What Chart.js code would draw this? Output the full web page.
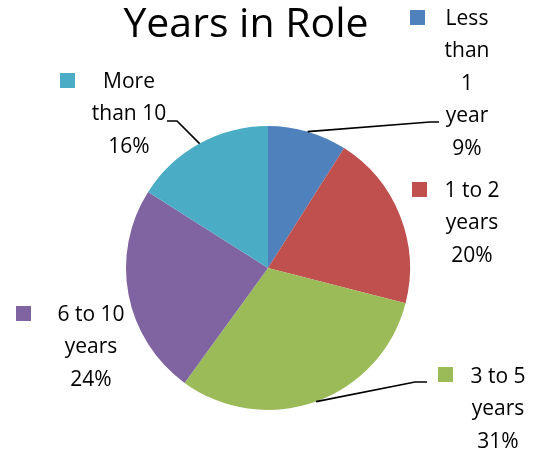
<!DOCTYPE html>
<html>
<head>
<meta charset="utf-8">
<script src="https://cdn.jsdelivr.net/npm/chart.js@4"></script>
<style>
  html, body { margin: 0; padding: 0; background: #fff; }
  #wrap { width: 536px; height: 455px; position: relative; }
</style>
</head>
<body>
<div id="wrap"><canvas id="c" width="536" height="455"></canvas></div>
<script>
// ---- data ----
const chartTitle = 'Years in Role';
const categories = ['Less than 1 year', '1 to 2 years', '3 to 5 years', '6 to 10 years', 'More than 10'];
const values = [9, 20, 31, 24, 16];
const colors = ['#4F81BD', '#C0504D', '#9BBB59', '#8064A2', '#4BACC6'];

// ---- layout for the data labels (text wrapping, placement) ----
const labelLayout = [
  { lines: ['Less', 'than', '1', 'year'], cx: 467, y0: 19, sq: [410, 10], leader: [[430, 122], [439, 122]] },
  { lines: ['1 to 2', 'years'], cx: 472, y0: 191, sq: [412, 182], leader: null },
  { lines: ['3 to 5', 'years'], cx: 498, y0: 377, sq: [438, 367], leader: [[415, 382], [427, 382]] },
  { lines: ['6 to 10', 'years'], cx: 91, y0: 315, sq: [16, 306], leader: null },
  { lines: ['More', 'than 10'], cx: 129, y0: 82, sq: [60, 73], leader: [[177, 121], [167, 121]] }
];
const lineGap = 32.5;
const fontFamily = '"Open Sans", sans-serif';

const labelPlugin = {
  id: 'pieLabels',
  afterDraw(chart) {
    const ctx = chart.ctx;
    const meta = chart.getDatasetMeta(0);
    const total = values.reduce((a, b) => a + b, 0);
    ctx.save();
    // title
    ctx.fillStyle = '#000';
    ctx.font = '500 41px ' + fontFamily;
    ctx.textAlign = 'center';
    ctx.textBaseline = 'middle';
    ctx.fillText(chartTitle, 246, 25);

    meta.data.forEach((arc, i) => {
      const L = labelLayout[i];
      const p = arc.getProps(['x', 'y', 'startAngle', 'endAngle', 'outerRadius'], true);
      const mid = (p.startAngle + p.endAngle) / 2;
      const ex = p.x + Math.cos(mid) * p.outerRadius;
      const ey = p.y + Math.sin(mid) * p.outerRadius;
      // leader line
      if (L.leader) {
        ctx.strokeStyle = '#000';
        ctx.lineWidth = 1.6;
        ctx.beginPath();
        ctx.moveTo(ex, ey);
        L.leader.forEach(pt => ctx.lineTo(pt[0], pt[1]));
        ctx.stroke();
      }
      // legend key square
      ctx.fillStyle = colors[i];
      ctx.fillRect(L.sq[0], L.sq[1], 15, 15);
      // text
      ctx.fillStyle = '#000';
      ctx.font = '21px ' + fontFamily;
      ctx.textAlign = 'center';
      ctx.textBaseline = 'middle';
      const pct = Math.round(values[i] / total * 100) + '%';
      const lines = L.lines.concat([pct]);
      lines.forEach((t, k) => ctx.fillText(t, L.cx, L.y0 + k * lineGap));
    });
    ctx.restore();
  }
};

new Chart(document.getElementById('c'), {
  type: 'pie',
  data: {
    labels: categories,
    datasets: [{
      data: values,
      backgroundColor: colors,
      borderWidth: 0
    }]
  },
  options: {
    responsive: false,
    animation: false,
    layout: { padding: { left: 126, right: 126, top: 126, bottom: 45 } },
    plugins: {
      legend: { display: false },
      title: { display: false },
      tooltip: { enabled: false }
    }
  },
  plugins: [labelPlugin]
});
</script>
</body>
</html>
